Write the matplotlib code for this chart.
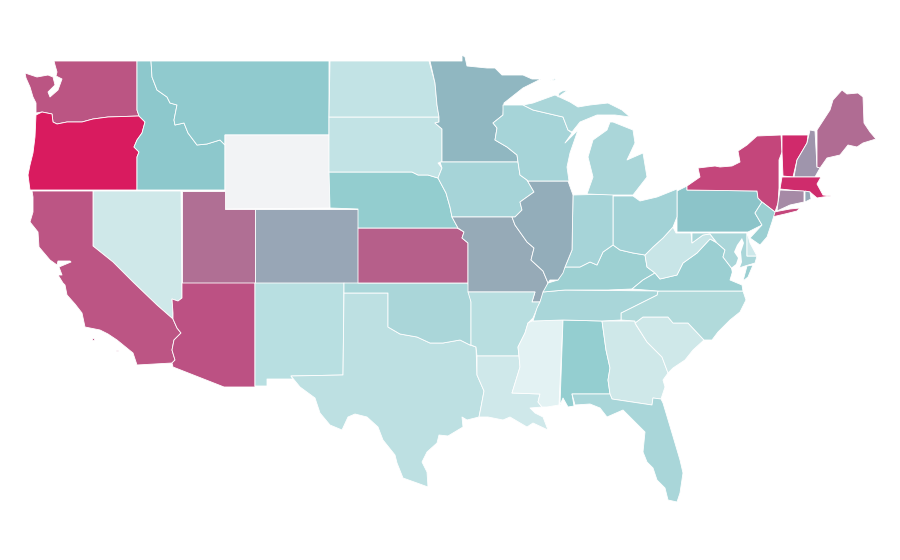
# -*- coding: utf-8 -*-
"""Mapa coropletico de Estados Unidos, contornos leidos de la imagen (x, y en pixeles)."""
import matplotlib
matplotlib.use('Agg')
import matplotlib.pyplot as plt

WA = [(54,61),(137,61),(137,110),(139,116),(108,117),(93,119),(82,122),(67,122),(57,124),(53,122),(52,114),(42,112),(36,113),
      (36,103),(33,97),(30,87),(26,78),(25,73),(37,77),(48,75),(53,77),(55,85),(48,92),(50,97),(58,90),(62,79),(56,76),(57,72),(55,65)]
OR = [(36,115),(42,112),(52,114),(53,122),(57,124),(67,122),(82,122),(93,119),(108,117),(139,116),(145,122),(142,133),(137,140),
      (134,147),(139,152),(137,157),(137,190),(30,190),(28,175),(30,165),(33,153),(35,137)]
ID = [(137,61),(151,61),(152,77),(157,90),(167,97),(170,103),(177,105),(174,120),(175,125),(184,123),(188,133),(197,145),(207,144),
      (220,140),(225,145),(225,190),(137,190),(137,157),(139,152),(134,147),(137,140),(142,133),(145,122),(139,116),(137,110)]
MT = [(151,61),(329,61),(329,135),(225,135),(225,145),(220,140),(207,144),(197,145),(188,133),(184,123),(175,125),(174,120),(177,105),
      (170,103),(167,97),(157,90),(152,77)]
WY = [(225,135),(329,135),(330,208),(225,209)]
NV = [(93,191),(181,191),(182,298),(178,301),(172,299),(173,313),(173,319),(157,305),(133,282),(113,262),(93,246)]
CA = [(32,191),(93,191),(93,246),(113,262),(133,282),(157,305),(173,319),(177,328),(181,333),(174,340),(172,350),(175,360),(172,363),
      (137,365),(133,353),(117,340),(108,334),(100,330),(85,327),(82,313),(75,304),(67,295),(65,285),(63,283),(58,275),(62,275),(59,267),
      (71,262),(70,261),(58,261),(57,265),(50,260),(39,247),(38,232),(30,222),(33,212),(33,197)]
CA_ISLE_1 = [(92,338),(94,338),(94,340),(92,340)]
CA_ISLE_2 = [(116,350),(118,350),(118,351),(116,351)]
UT = [(182,191),(225,191),(225,209),(255,209),(255,283),(182,283)]
CO = [(255,209),(358,209),(358,283),(255,283)]
AZ = [(182,283),(255,283),(255,387),(224,387),(173,367),(172,363),(175,360),(172,350),(174,340),(181,333),(177,328),(173,319),(173,313),
      (172,299),(178,301),(182,298)]
NM = [(255,283),(344,283),(343,375),(291,376),(293,379),(267,379),(267,386),(255,386)]
TX = [(344,293),(388,293),(388,327),(400,334),(417,337),(430,343),(443,343),(460,340),(470,345),(476,347),(477,375),(484,391),(481,407),
      (479,417),(467,420),(462,417),(463,427),(448,436),(439,435),(437,443),(427,452),(422,462),(427,472),(428,487),(417,483),(403,478),
      (397,463),(395,455),(383,440),(378,427),(367,417),(355,414),(348,417),(342,430),(330,425),(320,413),(315,398),(300,387),(291,376),(343,375)]
OK = [(344,283),(468,283),(471,302),(471,345),(470,345),(460,340),(443,343),(430,343),(417,337),(400,334),(388,327),(388,293),(344,293)]
KS = [(358,228),(457,228),(464,232),(462,238),(468,243),(468,283),(358,283)]
NE = [(329,172),(412,172),(418,175),(428,175),(438,178),(446,193),(450,207),(452,217),(458,228),(358,228),(358,209),(330,208)]
SD = [(329,117),(439,117),(439,122),(435,123),(442,129),(442,162),(438,163),(442,168),(438,178),(428,175),(418,175),(412,172),(329,172)]
ND = [(330,61),(429,61),(435,83),(437,105),(439,117),(329,117)]
MN = [(430,61),(462,61),(462,55),(465,57),(467,66),(487,68),(495,68),(502,75),(523,75),(532,79),(541,79),(523,88),(504,103),(503,115),
      (493,123),(497,128),(495,140),(507,147),(517,155),(518,162),(442,162),(442,129),(435,123),(439,122),(439,117),(437,105),(435,83)]
IA = [(440,162),(518,162),(520,175),(527,180),(534,192),(520,202),(522,210),(515,217),(452,217),(450,207),(446,193),(438,178),(442,168)]
MO = [(452,217),(512,217),(515,225),(527,242),(534,248),(531,260),(543,271),(548,283),(542,297),(540,302),(532,302),(535,292),(468,292),
      (468,243),(462,238),(464,232),(458,228)]
AR = [(468,292),(535,292),(532,302),(540,302),(533,318),(528,323),(525,333),(518,347),(519,356),(477,356),(476,347),(471,345),(471,302)]
LA = [(477,356),(519,356),(520,367),(512,393),(540,394),(538,402),(542,407),(530,408),(535,413),(543,417),(548,430),(533,423),(527,427),
      (510,417),(503,420),(488,417),(479,417),(481,407),(484,391),(477,375)]
MS = [(532,321),(563,320),(559,405),(547,407),(542,407),(538,402),(540,394),(512,393),(520,367),(519,356),(518,347),(525,333),(528,323)]
AL = [(563,320),(602,321),(606,350),(610,368),(608,380),(610,394),(572,394),(574,406),(568,407),(563,398),(560,405)]
GA = [(602,321),(635,321),(636,325),(647,342),(662,357),(668,373),(663,380),(665,387),(661,399),(653,398),(652,405),(612,399),(610,394),
      (608,380),(610,368),(606,350)]
SC = [(635,323),(643,317),(668,317),(673,323),(688,323),(704,340),(693,350),(685,360),(673,368),(668,373),(662,357),(647,342)]
FL = [(572,394),(610,394),(612,399),(652,405),(653,398),(661,399),(663,403),(672,433),(680,460),(683,473),(680,493),(677,502),(668,500),
      (665,488),(657,480),(653,468),(647,462),(643,452),(645,432),(633,420),(623,410),(607,417),(600,408),(590,404),(575,405)]
NC = [(658,291),(743,291),(746,300),(740,312),(730,320),(718,332),(712,340),(704,340),(688,323),(673,323),(668,317),(643,317),(635,323),
      (635,321),(621,320),(621,313),(633,307),(647,300),(657,295)]
TN = [(543,292),(565,290),(658,291),(657,295),(647,300),(633,307),(621,313),(621,320),(602,321),(563,320),(533,321),(537,308),(540,302)]
KY = [(548,283),(558,280),(565,267),(580,267),(590,262),(597,265),(603,252),(613,245),(620,250),(633,253),(645,255),(647,267),(655,273),
      (643,280),(632,289),(608,290),(565,290),(543,292)]
VA = [(632,289),(658,291),(743,291),(742,285),(730,280),(733,270),(723,257),(725,250),(717,243),(710,239),(697,253),(683,263),(677,275),
      (660,279),(655,273),(643,280)]
WV = [(645,255),(653,247),(663,238),(673,227),(676,233),(691,233),(692,243),(703,235),(710,234),(716,242),(710,239),(697,253),(683,263),
      (677,275),(660,279),(655,273),(647,267)]
MD = [(692,233),(747,233),(747,256),(757,256),(755,263),(745,266),(733,270),(723,257),(725,250),(717,243),(710,234),(703,235),(692,243)]
DE = [(747,232),(750,243),(757,256),(747,256)]
VA_SHORE = [(747,266),(753,265),(748,277),(743,281)]
CHESAPEAKE = [(742,238),(737,245),(734,252),(738,258),(736,264),(731,268),(733,277),(738,283),(741,281),(739,270),(742,262),(741,252),(744,243)]
PA = [(677,191),(687,186),(687,190),(757,191),(758,198),(762,202),(755,213),(762,225),(748,232),(677,232)]
OH = [(613,196),(633,196),(640,201),(657,197),(677,189),(677,217),(673,227),(663,238),(653,247),(645,255),(633,253),(620,250),(613,245)]
IN = [(573,195),(613,194),(613,245),(603,252),(597,265),(590,262),(580,267),(565,267),(572,250)]
IL = [(528,181),(568,181),(573,195),(572,250),(565,267),(563,273),(558,280),(550,280),(548,283),(543,271),(531,260),(534,248),(527,242),
      (515,225),(512,217),(515,217),(522,210),(520,202),(534,192),(527,180)]
WI = [(503,115),(503,105),(523,105),(533,110),(563,117),(568,130),(572,133),(565,143),(578,130),(570,153),(567,167),(569,181),(528,181),
      (527,180),(520,175),(518,162),(517,155),(507,147),(495,140),(497,128),(493,123)]
MI_UP = [(523,105),(533,103),(555,95),(570,102),(578,107),(590,105),(608,103),(622,110),(630,117),(615,115),(597,115),(580,122),(572,132),
         (568,130),(563,117),(533,110)]
MI_LOW = [(613,122),(633,130),(635,143),(627,160),(643,153),(647,177),(633,195),(613,195),(587,194),(593,177),(588,157),(593,140),(607,130),(610,122)]
MI_ISLE = [(550,81),(556,78),(555,80)]
MI_KEW = [(558,97),(568,90),(562,91),(559,93)]
NY = [(687,190),(687,186),(700,177),(698,168),(715,166),(720,167),(732,166),(740,162),(738,151),(747,145),(757,136),(781,135),(782,152),
      (779,160),(779,188),(778,203),(775,212),(762,202),(758,198),(757,191)]
LONG_ISLAND = [(770,216),(774,212),(790,209),(800,208),(797,211),(785,214),(772,217)]
NJ = [(762,202),(775,212),(772,222),(767,237),(760,245),(750,238),(762,225),(755,213)]
VT = [(782,135),(808,135),(807,143),(797,160),(793,177),(783,176),(782,152)]
NH = [(810,130),(815,131),(817,167),(820,168),(815,177),(794,177),(797,160),(807,143)]
ME = [(817,130),(830,110),(833,100),(842,90),(847,94),(858,93),(863,97),(864,123),(870,132),(876,139),(863,143),(857,147),(848,145),
      (840,155),(827,158),(820,168),(817,167)]
MA = [(782,177),(815,177),(821,177),(817,184),(823,195),(831,196),(823,197),(817,198),(810,192),(780,189)]
CT = [(780,190),(804,191),(804,202),(790,205),(777,211),(778,203)]
RI = [(805,191),(810,192),(811,199),(805,202)]

state_shapes = [WA, OR, ID, MT, WY, NV, CA, CA_ISLE_1, CA_ISLE_2, UT, CO, AZ, NM, TX, OK, KS, NE, SD, ND, MN, IA, MO, AR, LA, MS, AL, GA, SC,
                FL, NC, TN, KY, VA, VA_SHORE, WV, MD, DE, PA, OH, IN, IL, WI, MI_UP, MI_LOW, MI_ISLE, MI_KEW, NY, LONG_ISLAND, NJ, VT, NH, ME,
                MA, CT, RI]
state_colors = ['#bb5583', '#d91b5f', '#8dc8cc', '#90cace', '#f2f3f5', '#cfe8e9', '#bc5584', '#bc5584', '#bc5584', '#b06f94', '#98a6b6',
                '#bc5183', '#b8dfe1', '#bde0e2', '#aad6d9', '#b65f8a', '#93cdcf', '#c2e3e5', '#c2e3e5', '#90b7c1', '#a6d4d8', '#96aab7',
                '#b8dee0', '#cfe8ea', '#e3f2f3', '#94ced0', '#cfe8e9', '#cfe8e9', '#a9d6d9', '#b1dadb', '#a9d6d9', '#9dd0d2', '#9bcfd2',
                '#9bcfd2', '#c8e5e7', '#aad6d9', '#cde8ea', '#8cc4c9', '#a2d2d6', '#a6d4d8', '#93adba', '#a6d4d8', '#aad6d9', '#aad6d9',
                '#aad6d9', '#aad6d9', '#c4467b', '#c4467b', '#9bcfd2', '#d02a6b', '#9f95ac', '#b06c93', '#cf2c6c', '#a68aa6', '#97a9b9']

fig = plt.figure(figsize=(9, 5.6), dpi=100)
ax = fig.add_axes([0, 0, 1, 1])
ax.set_xlim(0, 900)
ax.set_ylim(560, 0)
ax.axis('off')

for shape, color in zip(state_shapes, state_colors):
    xs, ys = zip(*shape)
    ax.fill(xs, ys, facecolor=color, edgecolor='white', linewidth=0.6, joinstyle='round')

# la bahia de Chesapeake se dibuja encima de MD y VA
xs, ys = zip(*CHESAPEAKE)
ax.fill(xs, ys, facecolor='white', edgecolor='none')

fig.savefig('out.png', dpi=100)
